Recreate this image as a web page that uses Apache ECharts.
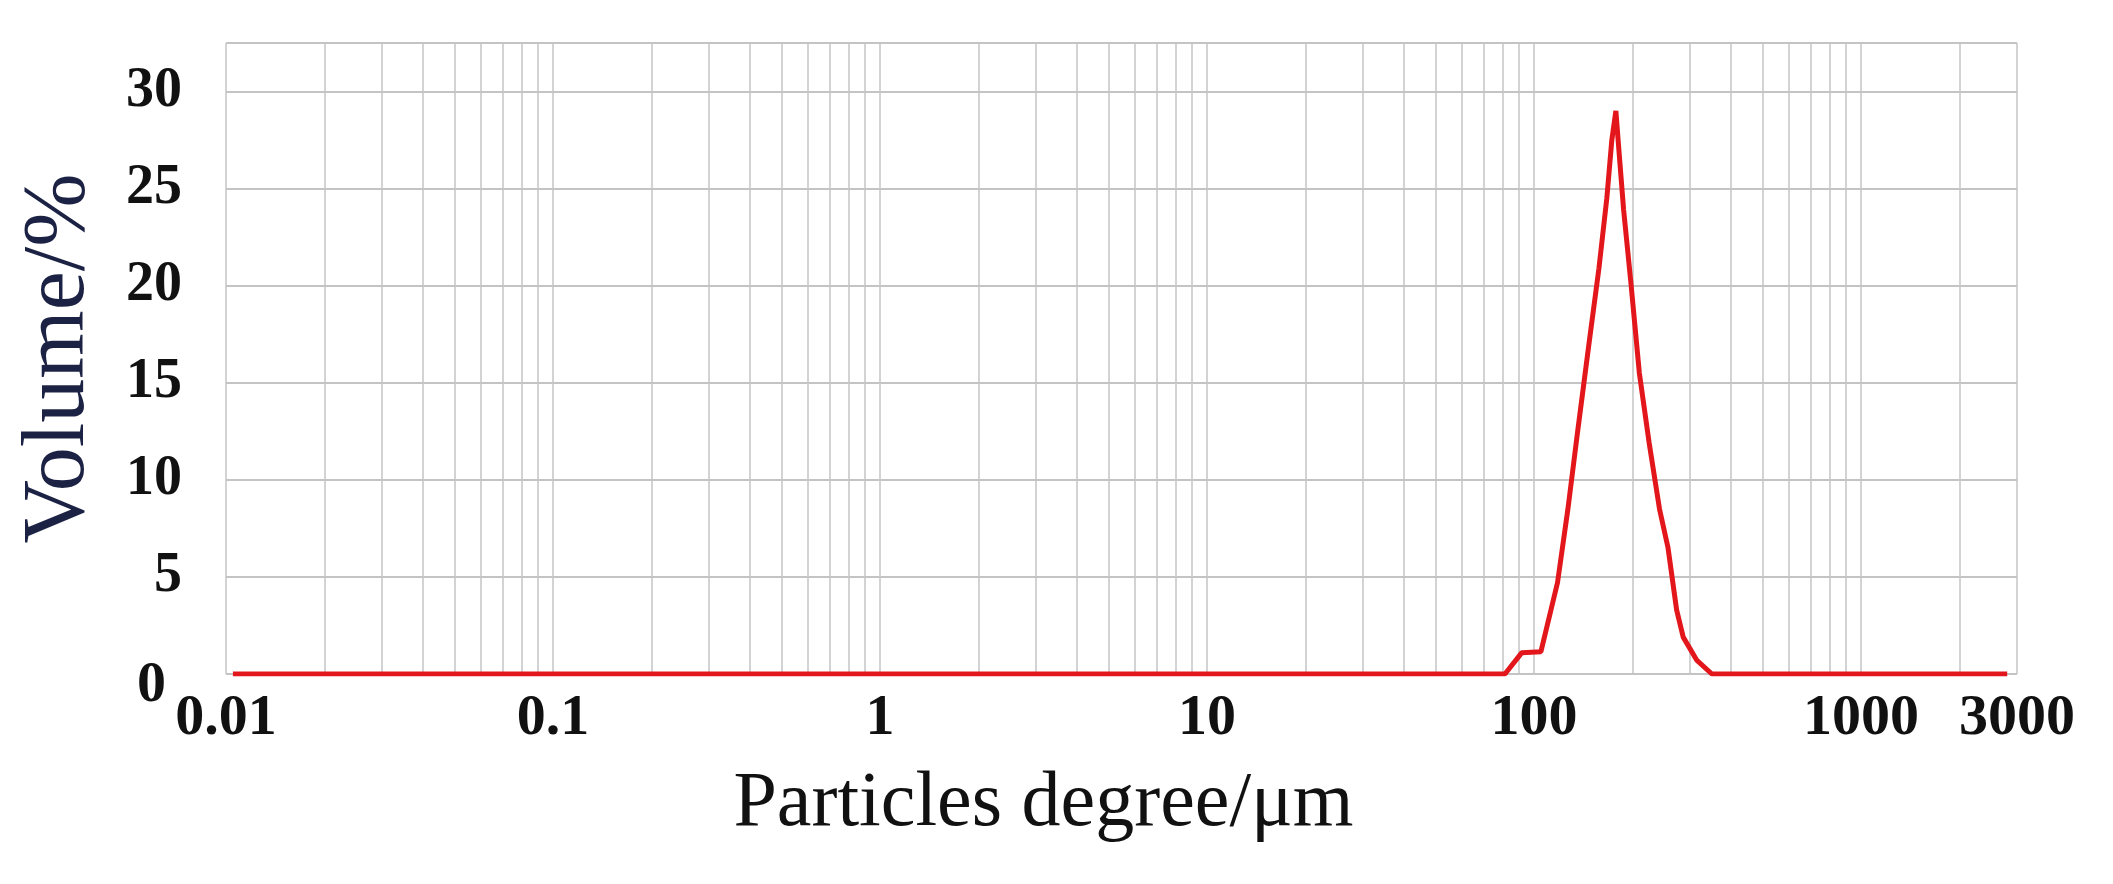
<!DOCTYPE html>
<html>
<head>
<meta charset="utf-8">
<script src="https://cdn.jsdelivr.net/npm/echarts@6/dist/echarts.min.js"></script>
<style>
  html, body { margin: 0; padding: 0; background: #fff; }
  #chart { width: 2113px; height: 884px; }
</style>
</head>
<body>
<div id="chart"></div>
<script>
// particle size (um) and volume (%)
const sizeUm = [0.0105, 81.5, 91.8, 105, 118, 127, 136, 147, 158, 167, 173, 178, 182, 188, 198, 210, 225, 242, 257, 273, 286, 315, 350, 2800];
const volumePct = [0, 0, 1.1, 1.15, 4.7, 8.5, 12.5, 16.9, 20.9, 24.5, 27.5, 29.0, 26.9, 23.9, 20.1, 15.5, 11.9, 8.5, 6.5, 3.3, 1.9, 0.7, 0, 0];

// axis ticks
const xTicks = [0.01, 0.1, 1, 10, 100, 1000, 3000];
const xTickLabels = ["0.01", "0.1", "1", "10", "100", "1000", "3000"];
const yTicks = [0, 5, 10, 15, 20, 25, 30];

// log grid: 2..9 inside every decade
const decades = [0.01, 0.1, 1, 10, 100, 1000];
const minorSteps = [2, 3, 4, 5, 6, 7, 8, 9];

const gridColor = "#c4c4c4";
const serif = "Liberation Serif";

const minorLines = [];
decades.forEach((d) => {
  minorSteps.forEach((m) => {
    const v = +(d * m).toPrecision(3);
    if (v < 3000) minorLines.push({ xAxis: v });
  });
});

const chart = echarts.init(document.getElementById("chart"));

const option = {
  animation: false,
  backgroundColor: "#fff",
  grid: {
    left: 226,
    right: 96,
    top: 43,
    bottom: 210,
  },
  xAxis: {
    type: "log",
    logBase: 10,
    min: xTicks[0],
    max: xTicks[xTicks.length - 1],
    name: "Particles degree/\u03bcm",
    nameLocation: "middle",
    nameGap: 92,
    nameTextStyle: {
      fontFamily: serif,
      fontSize: 78,
      color: "#111",
      padding: [0, 156, 0, 0],
    },
    axisLine: { show: false },
    axisTick: { show: false },
    axisLabel: {
      fontFamily: serif,
      fontWeight: "bold",
      fontSize: 58,
      color: "#111",
      margin: 16,
      formatter: function (v) {
        let best = 0;
        xTicks.forEach((t, i) => {
          if (Math.abs(Math.log10(t) - Math.log10(v)) < Math.abs(Math.log10(xTicks[best]) - Math.log10(v))) best = i;
        });
        return xTickLabels[best];
      },
    },
    splitLine: {
      show: true,
      lineStyle: { color: gridColor, width: 1.5 },
    },
  },
  yAxis: {
    type: "value",
    min: 0,
    max: 32.5,
    interval: 5,
    name: "Volume/%",
    nameLocation: "middle",
    nameGap: 122,
    nameTextStyle: {
      fontFamily: serif,
      fontSize: 88,
      color: "#1c2244",
    },
    axisLine: { show: false },
    axisTick: { show: false },
    axisLabel: {
      showMaxLabel: false,
      fontFamily: serif,
      fontWeight: "bold",
      fontSize: 56,
      color: "#111",
      margin: 44,
      formatter: function (v) {
        if (v === yTicks[0]) return "{zero|0}";
        return yTicks.indexOf(v) >= 0 ? String(v) : "";
      },
      rich: {
        zero: {
          fontFamily: serif,
          fontWeight: "bold",
          fontSize: 58,
          color: "#111",
          padding: [24, 16, 0, 0],
        },
      },
    },
    splitLine: {
      show: true,
      lineStyle: { color: gridColor, width: 2 },
    },
  },
  series: [
    {
      name: "grid",
      type: "line",
      data: [],
      silent: true,
      markLine: {
        silent: true,
        z: 1,
        symbol: "none",
        label: { show: false },
        emphasis: { disabled: true },
        lineStyle: { color: gridColor, width: 1.5, type: "solid" },
        data: minorLines,
      },
    },
    {
      name: "Volume",
      type: "line",
      z: 5,
      showSymbol: false,
      symbol: "none",
      lineStyle: { color: "#e3161b", width: 5 },
      data: sizeUm.map((s, i) => [s, volumePct[i]]),
    },
  ],
};

chart.setOption(option);
</script>
</body>
</html>
